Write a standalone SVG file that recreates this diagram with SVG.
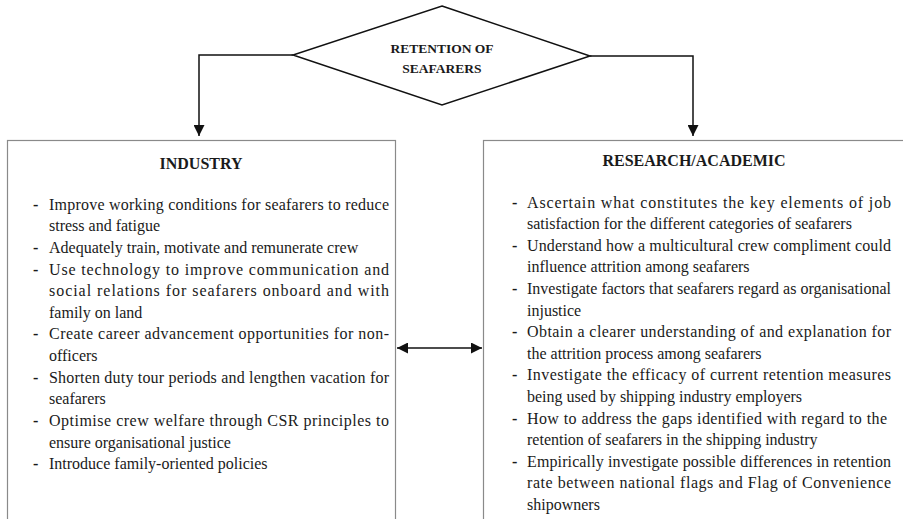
<svg xmlns="http://www.w3.org/2000/svg" width="903" height="519" viewBox="0 0 903 519">
<style>
.t{font-family:"Liberation Serif","Times New Roman",serif;font-size:16px;fill:#1a1a1a}
.b{font-family:"Liberation Serif","Times New Roman",serif;font-weight:bold;fill:#1a1a1a}
.d{font-family:"Liberation Serif","Times New Roman",serif;font-size:16px;font-weight:bold;fill:#1a1a1a}
.box{fill:#fff;stroke:#8a8a8a;stroke-width:1.2}
.ln{fill:none;stroke:#111;stroke-width:1.5}
</style>
<defs>
<marker id="ah" viewBox="0 0 10 10" refX="10" refY="5" markerWidth="7" markerHeight="7" orient="auto-start-reverse" markerUnits="userSpaceOnUse">
<path d="M0,0 L10,5 L0,10 z" fill="#111"/>
</marker>
<marker id="ah2" viewBox="0 0 10 10" refX="10" refY="5" markerWidth="11" markerHeight="11" orient="auto-start-reverse" markerUnits="userSpaceOnUse">
<path d="M0,0 L10,5 L0,10 z" fill="#111"/>
</marker>
</defs>
<rect width="903" height="519" fill="#fff"/>
<g id="retention">
<polygon points="442,6 590,56 442,105 293,55" fill="#fff" stroke="#111" stroke-width="1.5"/>
<text class="b" font-size="13.5" x="442" y="53" text-anchor="middle">RETENTION OF</text>
<text class="b" font-size="13.5" x="442" y="73" text-anchor="middle">SEAFARERS</text>
</g>
<g id="industry">
<rect class="box" x="7.5" y="140.5" width="388" height="400"/>
<text class="b" font-size="16" x="201" y="169" text-anchor="middle">INDUSTRY</text>
<g class="t">
<text x="49" y="209.5" textLength="340" lengthAdjust="spacing">Improve working conditions for seafarers to reduce</text>
<text x="49" y="231.2">stress and fatigue</text>
<text x="49" y="252.8">Adequately train, motivate and remunerate crew</text>
<text x="49" y="274.5" textLength="340" lengthAdjust="spacing">Use technology to improve communication and</text>
<text x="49" y="296.1" textLength="340" lengthAdjust="spacing">social relations for seafarers onboard and with</text>
<text x="49" y="317.8">family on land</text>
<text x="49" y="339.4" textLength="340" lengthAdjust="spacing">Create career advancement opportunities for non-</text>
<text x="49" y="361.1">officers</text>
<text x="49" y="382.7" textLength="340" lengthAdjust="spacing">Shorten duty tour periods and lengthen vacation for</text>
<text x="49" y="404.4">seafarers</text>
<text x="49" y="426" textLength="340" lengthAdjust="spacing">Optimise crew welfare through CSR principles to</text>
<text x="49" y="447.7">ensure organisational justice</text>
<text x="49" y="469.3">Introduce family-oriented policies</text>
</g>
<g class="d">
<text x="33" y="209.5">-</text>
<text x="33" y="252.8">-</text>
<text x="33" y="274.5">-</text>
<text x="33" y="339.4">-</text>
<text x="33" y="382.7">-</text>
<text x="33" y="426">-</text>
<text x="33" y="469.3">-</text>
</g>
</g>
<g id="research">
<rect class="box" x="483.5" y="140.5" width="430" height="400"/>
<text class="b" font-size="16" x="694" y="166" text-anchor="middle">RESEARCH/ACADEMIC</text>
<g class="t">
<text x="527" y="207.5" textLength="364" lengthAdjust="spacing">Ascertain what constitutes the key elements of job</text>
<text x="527" y="229.1">satisfaction for the different categories of seafarers</text>
<text x="527" y="250.7" textLength="364" lengthAdjust="spacing">Understand how a multicultural crew compliment could</text>
<text x="527" y="272.3">influence attrition among seafarers</text>
<text x="527" y="293.9" textLength="364" lengthAdjust="spacing">Investigate factors that seafarers regard as organisational</text>
<text x="527" y="315.5">injustice</text>
<text x="527" y="337.1" textLength="364" lengthAdjust="spacing">Obtain a clearer understanding of and explanation for</text>
<text x="527" y="358.7">the attrition process among seafarers</text>
<text x="527" y="380.3" textLength="364" lengthAdjust="spacing">Investigate the efficacy of current retention measures</text>
<text x="527" y="401.9">being used by shipping industry employers</text>
<text x="527" y="423.5" textLength="360" lengthAdjust="spacing">How to address the gaps identified with regard to the</text>
<text x="527" y="445.1">retention of seafarers in the shipping industry</text>
<text x="527" y="466.7" textLength="364" lengthAdjust="spacing">Empirically investigate possible differences in retention</text>
<text x="527" y="488.3" textLength="364" lengthAdjust="spacing">rate between national flags and Flag of Convenience</text>
<text x="527" y="509.9">shipowners</text>
</g>
<g class="d">
<text x="512" y="207.5">-</text>
<text x="512" y="250.7">-</text>
<text x="512" y="293.9">-</text>
<text x="512" y="337.1">-</text>
<text x="512" y="380.3">-</text>
<text x="512" y="423.5">-</text>
<text x="512" y="466.7">-</text>
</g>
</g>
<g id="connectors">
<path class="ln" d="M293,55 H199 V136" marker-end="url(#ah2)"/>
<path class="ln" d="M590,56 H693 V136" marker-end="url(#ah2)"/>
<path class="ln" d="M397,348 H482" marker-start="url(#ah2)" marker-end="url(#ah2)"/>
</g>
</svg>
